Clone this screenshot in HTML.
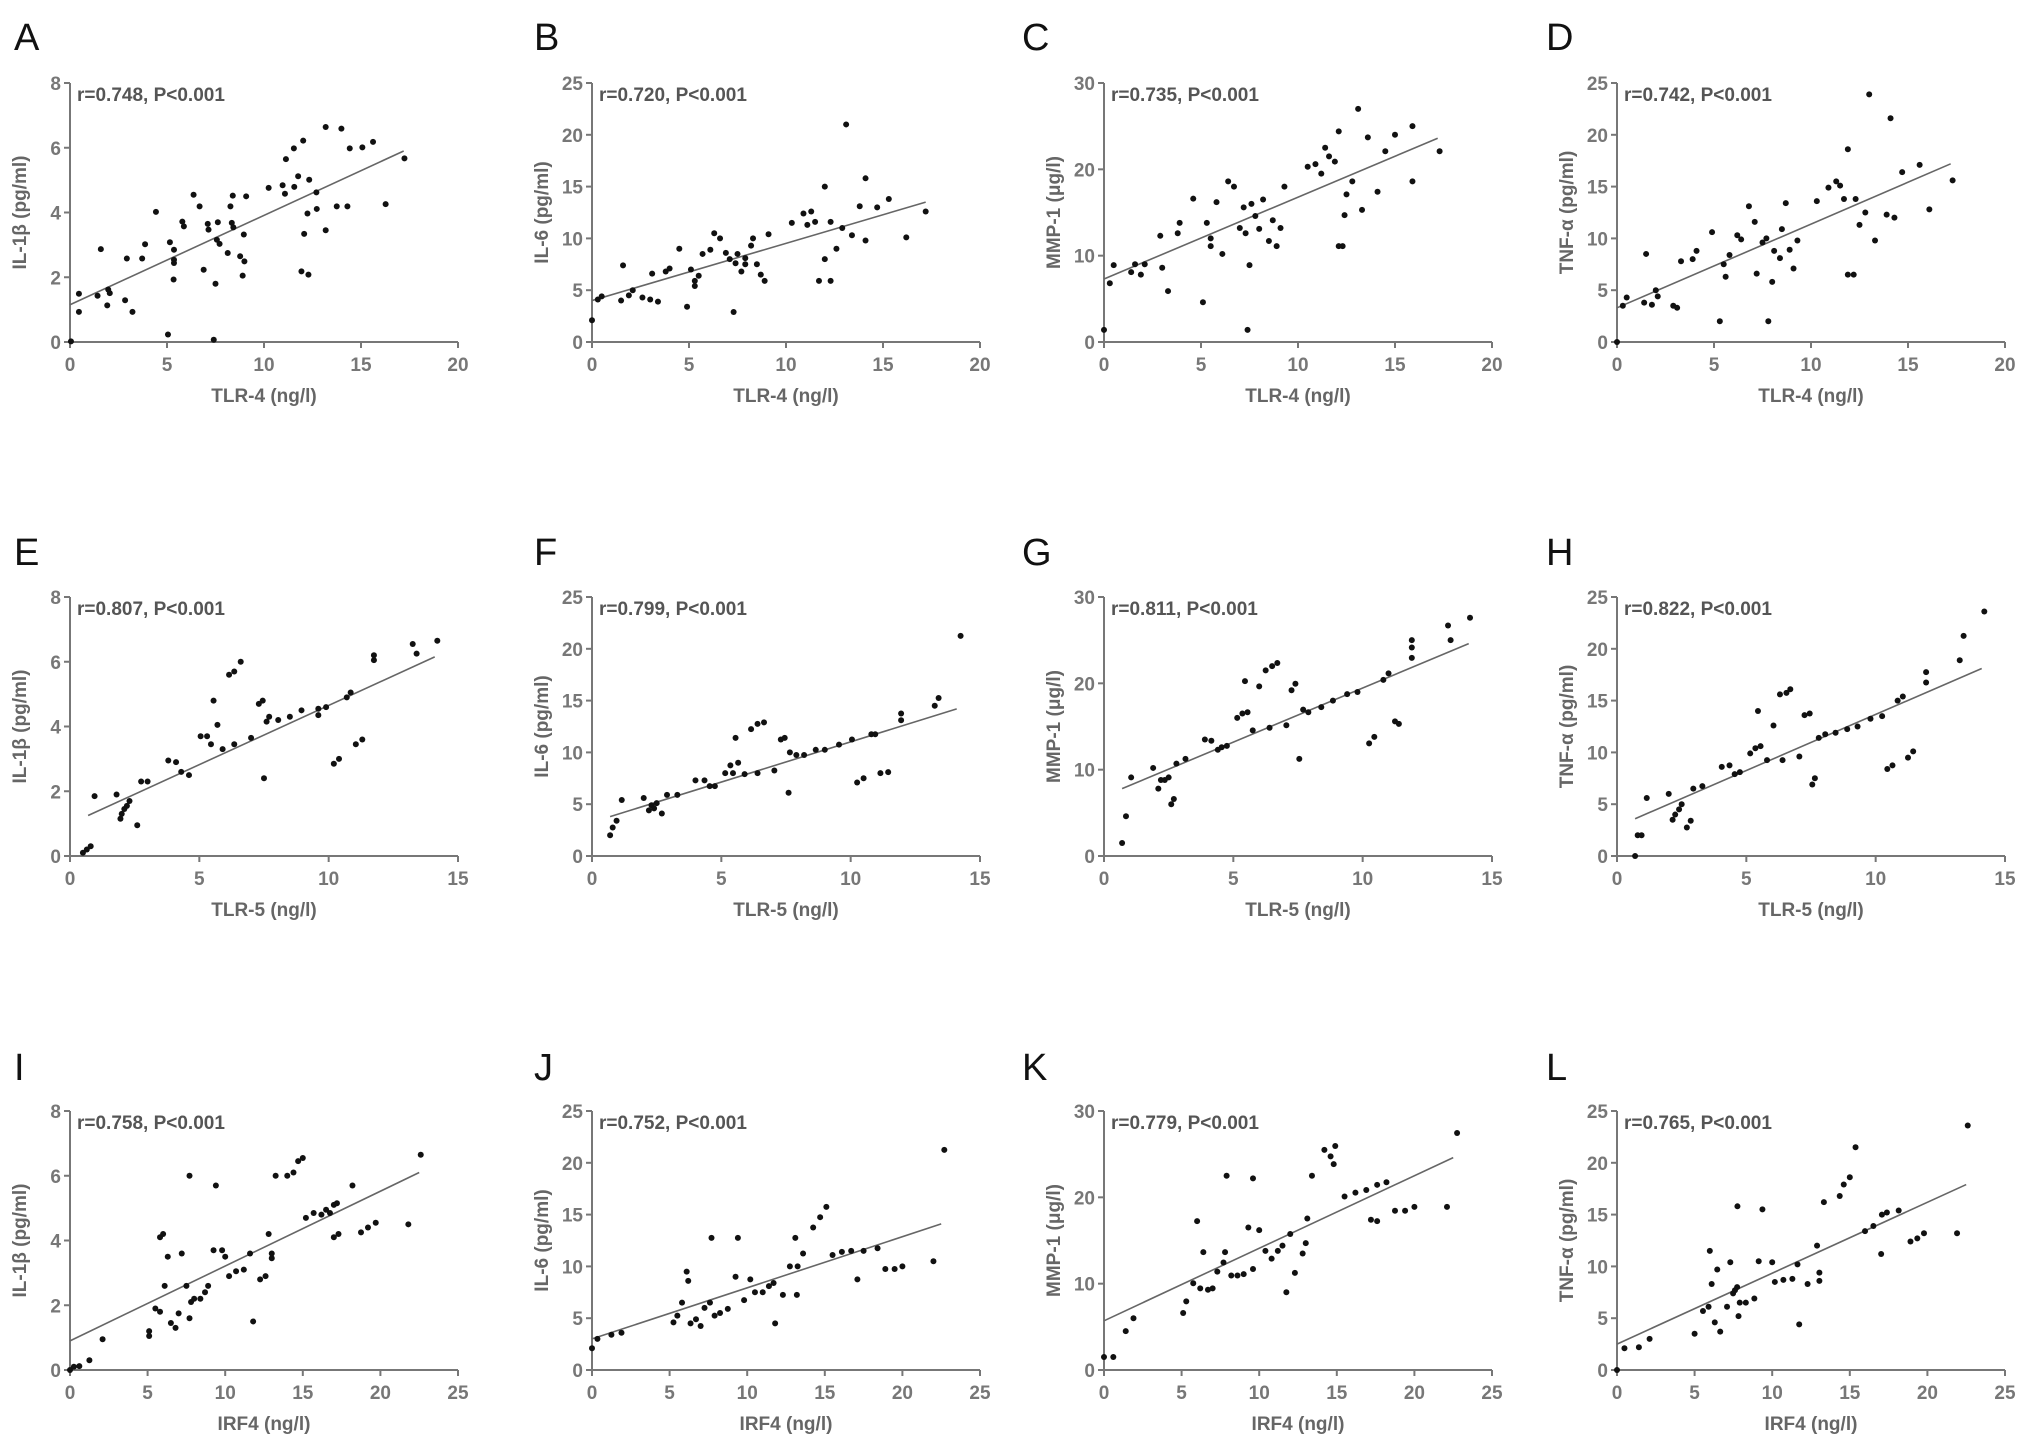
<!DOCTYPE html>
<html><head><meta charset="utf-8">
<style>
html,body{margin:0;padding:0;background:#fff;}
svg{display:block;}
text{font-family:"Liberation Sans",sans-serif;}
</style></head>
<body>
<svg id="fig" width="2031" height="1446" viewBox="0 0 2031 1446" xmlns="http://www.w3.org/2000/svg"></svg>
<script>
// ---- data ----
const aX=[0.05,0.46,0.46,1.42,1.59,1.92,1.97,2.05,2.84,2.93,3.22,3.72,3.87,4.43,5.05,5.15,5.36,5.36,5.36,5.34,5.79,5.87,6.37,6.68,6.89,7.1,7.14,7.5,7.41,7.62,7.57,7.71,8.13,8.27,8.34,8.39,8.42,8.77,8.9,8.96,8.99,9.08,10.24,10.96,11.08,11.13,11.54,11.56,11.76,11.93,12.02,12.07,12.29,12.24,12.33,12.7,12.72,13.18,13.18,13.75,13.99,14.3,14.42,15.07,15.62,16.27,17.24];
const aY=[0.02,1.49,0.93,1.43,2.87,1.13,1.62,1.51,1.29,2.58,0.93,2.58,3.02,4.02,0.23,3.08,2.85,2.54,2.44,1.93,3.72,3.57,4.55,4.19,2.23,3.65,3.47,1.8,0.07,3.7,3.16,3.03,2.75,4.19,3.68,4.52,3.54,2.65,2.05,3.32,2.49,4.5,4.76,4.84,4.58,5.65,5.98,4.79,5.12,2.18,6.22,3.34,2.08,3.97,5.01,4.62,4.11,6.64,3.45,4.19,6.59,4.19,5.98,6.01,6.18,4.26,5.67];
const bX=[0,0.3,0.5,1.5,1.6,1.9,2.1,2.6,3,3.1,3.4,3.8,4,4.5,4.9,5.1,5.3,5.3,5.5,5.7,6.1,6.3,6.6,6.9,7.1,7.3,7.4,7.5,7.7,7.9,7.9,8.2,8.3,8.5,8.7,8.9,9.1,10.3,10.9,11.1,11.3,11.5,11.7,12,12,12.3,12.6,12.9,13.1,13.4,13.8,14.1,14.1,14.7,15.3,16.2,17.2,12.3];
const bY=[2.1,4.1,4.4,4,7.4,4.5,5,4.3,4.1,6.6,3.9,6.8,7.1,9,3.4,7,5.9,5.4,6.4,8.5,8.9,10.5,10,8.6,8,2.9,7.6,8.5,6.8,8.1,7.5,9.3,10,7.5,6.5,5.9,10.4,11.5,12.4,11.3,12.6,11.6,5.9,15,8,11.6,9,11,21,10.3,13.1,15.8,9.8,13,13.8,10.1,12.6,5.9];
const cX=[0,0.3,0.5,1.4,1.6,1.9,2.1,2.9,3,3.3,3.8,3.9,4.6,5.1,5.3,5.5,5.5,5.8,6.1,6.4,6.7,7,7.2,7.3,7.4,7.5,7.6,7.8,8,8.2,8.5,8.7,8.9,9.1,9.3,10.5,10.9,11.2,11.4,11.6,11.9,12.1,12.1,12.3,12.4,12.5,12.8,13.1,13.3,13.6,14.1,14.5,15,15.9,17.3,15.9];
const cY=[1.4,6.8,8.9,8.1,9,7.8,9,12.3,8.6,5.9,12.6,13.8,16.6,4.6,13.8,12,11.1,16.2,10.2,18.6,18,13.2,15.6,12.6,1.4,8.9,16,14.6,13.1,16.5,11.7,14.1,11.1,13.2,18,20.3,20.6,19.5,22.5,21.5,20.9,24.4,11.1,11.1,14.7,17.1,18.6,27,15.3,23.7,17.4,22.1,24,18.6,22.1,25];
const dX=[0,0.3,0.5,1.4,1.5,1.8,2,2.1,2.9,3.1,3.3,3.9,4.1,4.9,5.3,5.5,5.6,5.8,6.2,6.4,6.8,7.1,7.2,7.5,7.7,7.8,8,8.1,8.4,8.5,8.7,8.9,9.1,9.3,10.3,10.9,11.3,11.5,11.7,11.9,11.9,12.2,12.3,12.5,12.8,13,13.3,13.9,14.1,14.3,14.7,15.6,16.1,17.3];
const dY=[0,3.5,4.3,3.8,8.5,3.6,5,4.4,3.5,3.3,7.8,8,8.8,10.6,2,7.5,6.3,8.4,10.3,9.9,13.1,11.6,6.6,9.6,10,2,5.8,8.8,8.1,10.9,13.4,8.9,7.1,9.8,13.6,14.9,15.5,15.1,13.8,18.6,6.5,6.5,13.8,11.3,12.5,23.9,9.8,12.3,21.6,12,16.4,17.1,12.8,15.6];
const eX=[0.5,0.65,0.8,0.95,1.8,1.95,2,2.1,2.2,2.3,2.6,2.75,3,3.8,4.1,4.3,4.6,5.05,5.3,5.45,5.55,5.7,5.9,6.15,6.35,6.6,6.35,7,7.3,7.45,7.5,7.6,7.7,8.05,8.5,8.95,9.6,9.9,10.2,10.4,10.7,10.85,11.05,11.3,11.75,11.75,13.25,13.4,14.2,9.6];
const eY=[0.1,0.2,0.3,1.85,1.9,1.15,1.3,1.45,1.55,1.7,0.95,2.3,2.3,2.95,2.9,2.6,2.5,3.7,3.7,3.45,4.8,4.05,3.3,5.6,5.7,6,3.45,3.65,4.7,4.8,2.4,4.15,4.3,4.2,4.3,4.5,4.55,4.6,2.85,3,4.9,5.05,3.45,3.6,6.05,6.2,6.55,6.25,6.65,4.35];
const fX=[0.7,0.8,0.95,1.15,2,2.2,2.3,2.4,2.5,2.7,2.9,3.3,4,4.35,4.55,4.75,5.15,5.35,5.45,5.55,5.65,5.9,6.15,6.4,6.65,6.4,7.05,7.3,7.45,7.6,7.65,7.9,8.2,8.65,9,9.55,10.05,10.25,10.5,10.8,10.95,11.15,11.45,11.95,11.95,13.4,13.25,14.25];
const fY=[2,2.75,3.4,5.4,5.6,4.4,4.9,4.6,5.1,4.1,5.9,5.9,7.3,7.3,6.75,6.75,8,8.75,8,11.4,9,7.9,12.25,12.75,12.9,8,8.25,11.25,11.4,6.1,10,9.75,9.75,10.25,10.25,10.75,11.25,7.1,7.5,11.75,11.75,8,8.1,13.75,13.1,15.25,14.5,21.25];
const gX=[0.7,0.85,1.05,1.9,2.1,2.2,2.35,2.5,2.6,2.7,2.8,3.15,3.9,4.15,4.4,4.55,4.75,5.15,5.35,5.45,5.55,5.75,6,6.25,6.5,6.7,6.4,7.05,7.25,7.4,7.55,7.7,7.9,8.4,8.85,9.4,9.8,10.25,10.45,10.8,11,11.25,11.4,11.9,11.9,11.9,13.3,13.4,14.15];
const gY=[1.5,4.6,9.1,10.2,7.8,8.8,8.8,9.1,6,6.6,10.7,11.25,13.5,13.35,12.3,12.6,12.75,16,16.5,20.25,16.65,14.55,19.65,21.5,22,22.35,14.85,15.15,19.2,19.95,11.25,16.95,16.65,17.25,18,18.75,19,13.05,13.8,20.4,21.15,15.6,15.3,24.15,22.95,25,26.7,25,27.6];
const hX=[0.7,0.8,0.95,1.15,2,2.15,2.25,2.4,2.5,2.7,2.85,2.95,3.3,4.05,4.35,4.55,4.75,5.15,5.35,5.45,5.55,5.8,6.05,6.3,6.55,6.7,6.4,7.05,7.25,7.45,7.55,7.65,7.8,8.05,8.45,8.9,9.3,9.8,10.25,10.45,10.65,10.85,11.05,11.25,11.45,11.95,11.95,13.25,13.4,14.2];
const hY=[0,2,2,5.6,6,3.5,4,4.5,5,2.75,3.4,6.5,6.75,8.6,8.75,7.9,8.1,9.9,10.4,14,10.6,9.25,12.6,15.6,15.75,16.1,9.25,9.6,13.6,13.75,6.9,7.5,11.4,11.75,11.9,12.25,12.5,13.25,13.5,8.4,8.75,15,15.4,9.5,10.1,16.75,17.75,18.9,21.25,23.6];
const iX=[0,0.25,0.6,1.25,2.1,5.1,5.1,5.5,5.8,5.8,6,6.1,6.3,6.5,6.8,7,7.2,7.5,7.7,7.7,7.8,8,8.4,8.7,8.9,9.25,9.4,9.8,10,10.25,10.7,11.2,11.6,11.8,12.25,12.6,12.8,13,13,13.25,14.4,14.7,15,14,15.2,15.7,16.2,16.5,16.75,17,17.2,17,17.3,18.2,18.75,19.2,19.7,21.8,22.6];
const iY=[0,0.1,0.12,0.3,0.95,1.05,1.2,1.9,1.8,4.1,4.2,2.6,3.5,1.45,1.3,1.75,3.6,2.6,6,1.6,2.1,2.2,2.2,2.4,2.6,3.7,5.7,3.7,3.5,2.9,3.05,3.1,3.6,1.5,2.8,2.9,4.2,3.45,3.6,6,6.1,6.45,6.55,6,4.7,4.85,4.8,4.95,4.85,5.1,5.15,4.1,4.2,5.7,4.25,4.4,4.55,4.5,6.65];
const jX=[0,0.35,1.25,1.9,5.25,5.5,5.8,6.1,6.2,6.35,6.7,7,7.25,7.6,7.7,7.9,8.25,8.75,9.25,9.4,9.8,10.2,10.5,11,11.4,11.7,11.8,12.3,12.75,13.1,13.2,13.25,14.25,14.7,15.1,15.5,16.1,16.7,17.1,17.5,18.4,18.9,19.5,20,22,22.7,13.6];
const jY=[2.1,3,3.4,3.6,4.6,5.25,6.5,9.5,8.6,4.5,4.9,4.25,6,6.5,12.75,5.25,5.5,5.9,9,12.75,6.75,8.75,7.5,7.5,8.1,8.4,4.5,7.25,10,12.75,7.25,10,13.75,14.75,15.75,11.1,11.4,11.5,8.75,11.5,11.75,9.75,9.75,10,10.5,21.25,11.25];
const kX=[0,0.6,1.4,1.9,5.1,5.3,5.75,6,6.2,6.4,6.7,7,7.3,7.7,7.8,7.9,8.2,8.6,9,9.3,9.6,9.6,10,10.4,10.8,11.2,11.5,11.75,12,12.3,12.8,13,13.1,13.4,14.2,14.6,14.9,14.8,15.5,16.2,16.9,17.2,17.6,18.2,18.75,19.4,20,22.1,22.75,17.6];
const kY=[1.5,1.5,4.5,6,6.6,7.95,10.05,17.25,9.45,13.65,9.3,9.45,11.4,12.45,13.65,22.5,10.95,10.95,11.1,16.5,22.2,11.7,16.2,13.8,12.9,13.8,14.4,9,15.75,11.25,13.5,14.7,17.55,22.5,25.5,24.75,25.95,23.85,20.1,20.55,20.85,17.4,21.45,21.75,18.45,18.45,18.9,18.9,27.45,17.25];
const lX=[0,0.48,1.41,2.1,5,5.54,5.9,5.98,6.1,6.3,6.46,6.65,7.09,7.3,7.48,7.6,7.74,7.76,7.83,7.91,8.3,8.85,9.13,9.37,10,10.17,10.72,11.3,11.63,11.74,12.28,12.89,13.04,13.04,13.33,14.35,14.61,15,15.37,15.98,16.52,17.02,17.07,17.39,18.15,18.91,19.35,19.78,21.91,22.6];
const lY=[0,2.1,2.2,3,3.5,5.7,6.1,11.5,8.3,4.6,9.7,3.7,6.1,10.4,7.4,7.7,8,15.8,5.2,6.5,6.5,6.9,10.5,15.5,10.4,8.5,8.7,8.8,10.2,4.4,8.3,12,9.4,8.6,16.2,16.8,17.9,18.6,21.5,13.4,13.9,11.2,15,15.2,15.4,12.4,12.7,13.2,13.2,23.6];
// fitted line endpoints [x1,y1,x2,y2]
const fitA=[0,1.15,17.2,5.9], fitB=[0,4,17.2,13.5], fitC=[0,7.3,17.2,23.6], fitD=[0,3.3,17.2,17.2];
const fitE=[0.7,1.25,14.1,6.15], fitF=[0.7,3.8,14.1,14.2], fitG=[0.7,7.8,14.1,24.6], fitH=[0.7,3.6,14.1,18.1];
const fitI=[0,0.9,22.5,6.1], fitJ=[0,3,22.5,14.1], fitK=[0,5.7,22.5,24.6], fitL=[0,2.5,22.5,17.9];
const rText=["r=0.748,  P<0.001","r=0.720,  P<0.001","r=0.735,  P<0.001","r=0.742,  P<0.001","r=0.807,  P<0.001","r=0.799,  P<0.001","r=0.811,  P<0.001","r=0.822,  P<0.001","r=0.758,  P<0.001","r=0.752,  P<0.001","r=0.779,  P<0.001","r=0.765,  P<0.001"];
const yTitles=["IL-1β (pg/ml)","IL-6 (pg/ml)","MMP-1 (μg/l)","TNF-α (pg/ml)"];
const yTicks=[[0,2,4,6,8],[0,5,10,15,20,25],[0,10,20,30],[0,5,10,15,20,25]];
const xTicks=[[0,5,10,15,20],[0,5,10,15],[0,5,10,15,20,25]];
const xTitles=["TLR-4  (ng/l)","TLR-5  (ng/l)","IRF4 (ng/l)"];
const letters=["A","B","C","D","E","F","G","H","I","J","K","L"];

const SX=[aX,bX,cX,dX,eX,fX,gX,hX,iX,jX,kX,lX];
const SY=[aY,bY,cY,dY,eY,fY,gY,hY,iY,jY,kY,lY];
const FITS=[fitA,fitB,fitC,fitD,fitE,fitF,fitG,fitH,fitI,fitJ,fitK,fitL];

const NS="http://www.w3.org/2000/svg";
const svg=document.getElementById('fig');
function mk(tag,attrs,parent){const e=document.createElementNS(NS,tag);for(const k in attrs)e.setAttribute(k,attrs[k]);(parent||svg).appendChild(e);return e;}

const colX=[70,592,1104,1617], rowY0=[342,856,1370], W=388, H=259;
const letterX=[14,534,1022,1546], letterY=[50,565,1080];

for(let r=0;r<3;r++){for(let c=0;c<4;c++){
  const idx=r*4+c;
  const x0=colX[c], y0=rowY0[r];
  const yt=yTicks[c], xt=xTicks[r];
  const ymax=yt[yt.length-1], xmax=xt[xt.length-1];
  const sx=v=>x0+v/xmax*W, sy=v=>y0-v/ymax*H;
  const g=mk('g',{});
  
  
  const lt=mk('text',{x:letterX[c],y:letterY[r],'font-size':38,fill:'#111'},g);lt.textContent=letters[idx];
  
  
  const ya=mk('line',{x1:x0,y1:y0,x2:x0,y2:y0-H,stroke:'#777','stroke-width':2},g);
  
  
  const xa=mk('line',{x1:x0,y1:y0,x2:x0+W,y2:y0,stroke:'#777','stroke-width':2},g);
  
  
  yt.forEach(v=>{
    mk('line',{x1:x0-6,y1:sy(v),x2:x0,y2:sy(v),stroke:'#777','stroke-width':2},g);
    const t=mk('text',{x:x0-9,y:sy(v)+7,'font-size':19,'font-weight':'bold',fill:'#777','text-anchor':'end'},g);t.textContent=v;
    
    
  });
  xt.forEach(v=>{
    mk('line',{x1:sx(v),y1:y0,x2:sx(v),y2:y0+6,stroke:'#777','stroke-width':2},g);
    const t=mk('text',{x:sx(v),y:y0+29,'font-size':19,'font-weight':'bold',fill:'#777','text-anchor':'middle'},g);t.textContent=v;
    
    
  });
  const xtT=mk('text',{x:x0+W/2,y:y0+60,'font-size':19,'font-weight':'bold',fill:'#666','text-anchor':'middle'},g);xtT.textContent=xTitles[r];
  
  
  const ytT=mk('text',{x:0,y:0,'font-size':19,'font-weight':'bold',fill:'#666','text-anchor':'middle',transform:`translate(${x0-44},${y0-H/2}) rotate(-90)`},g);ytT.textContent=yTitles[c];
  
  
  const rt=mk('text',{x:x0+7,y:y0-H+18,'font-size':19,'font-weight':'bold',fill:'#555'},g);rt.textContent=rText[idx];
  
  
  const f=FITS[idx];
  const fl=mk('line',{x1:sx(f[0]),y1:sy(f[1]),x2:sx(f[2]),y2:sy(f[3]),stroke:'#666','stroke-width':1.6},g);
  
  
  const X=SX[idx], Y=SY[idx];
  for(let i=0;i<X.length;i++){
    const d=mk('circle',{cx:sx(X[i]),cy:sy(Y[i]),r:3,fill:'#111'},g);
    
    
  }
}}
</script>
</body></html>
